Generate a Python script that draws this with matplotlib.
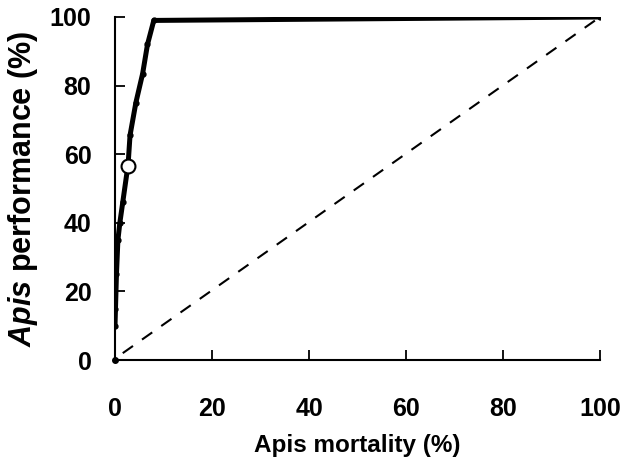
import matplotlib
matplotlib.use("Agg")
import matplotlib.pyplot as plt

plt.rcParams['font.family'] = ['Liberation Sans', 'DejaVu Sans']
plt.rcParams['font.weight'] = 'bold'
plt.rcParams['mathtext.fontset'] = 'custom'
plt.rcParams['mathtext.rm'] = 'Liberation Sans:bold'
plt.rcParams['mathtext.bfit'] = 'Liberation Sans:italic:bold'
plt.rcParams['mathtext.it'] = 'Liberation Sans:italic:bold'

# ROC-like curve data
mortality = [0, 0.1, 0.3, 0.6, 1.0, 1.6, 2.7, 3.1, 4.3, 5.7, 6.7, 8.0, 100]
performance = [10, 15, 25, 35, 40, 46, 57, 65.5, 75, 83.5, 92, 99, 100]
diag_x = [1.6, 100]
diag_y = [2, 100]
highlight_x = [2.7]
highlight_y = [56.6]

xticks = [0, 20, 40, 60, 80, 100]
yticks = [0, 20, 40, 60, 80, 100]

fig = plt.figure(figsize=(6.26, 4.66), dpi=100)
ax = fig.add_axes([115/626, 1-360/466, 485/626, 343/466])

ax.plot(diag_x, diag_y, color='black', lw=1.5, linestyle=(0, (6, 5.3)))
ax.plot(mortality, performance, color='black', lw=3.6, marker='o', ms=3.5)
ax.plot(highlight_x, highlight_y, marker='o', ms=10, mfc='white', mec='black', mew=1.5, ls='none', zorder=5)

ax.set_xlim(0, 100)
ax.set_ylim(0, 100)
ax.set_xticks(xticks)
ax.set_yticks(yticks)
ax.set_xticklabels([str(t) for t in xticks], fontsize=18, fontweight='bold')
ax.set_yticklabels([str(t) for t in yticks], fontsize=18, fontweight='bold')
ax.tick_params(axis='x', direction='in', length=7, width=1.3, pad=27)
ax.tick_params(axis='y', direction='in', length=7, width=1.3, pad=17)
for s in ['top', 'right']:
    ax.spines[s].set_visible(False)
for s in ['bottom', 'left']:
    ax.spines[s].set_linewidth(1.5)
ax.set_xlabel('Apis mortality (%)', fontsize=17.5, fontweight='bold', labelpad=9)
ax.set_ylabel(r'$\mathbfit{Apis}$ performance (%)', fontsize=22, fontweight='bold', labelpad=7)
ax.plot([0], [0], marker='o', ms=4, color='black', clip_on=False)

fig.savefig('out.png', dpi=100)
